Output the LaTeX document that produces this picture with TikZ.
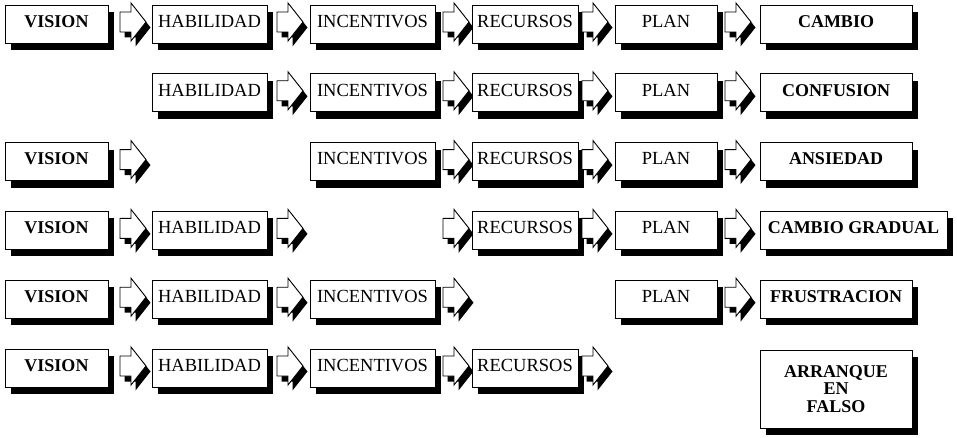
\documentclass[tikz,border=0pt]{standalone}
\usepackage{fontspec}
\setmainfont{Liberation Serif}
\usetikzlibrary{shadows}

\tikzset{
  % framed label with a solid black drop shadow
  blk/.style={draw, fill=white, line width=0.9pt, inner sep=0pt,
    minimum height=38pt, text height=12.5pt, text depth=6pt,
    font=\fontsize{18.5}{19}\selectfont,
    drop shadow={shadow xshift=6pt, shadow yshift=-7pt, opacity=1, fill=black}},
  bblk/.style={blk, font=\fontsize{18}{19}\selectfont\bfseries},
  vis/.style={bblk, minimum width=103pt},
  hab/.style={blk, minimum width=115pt},
  inc/.style={blk, minimum width=125pt},
  rec/.style={blk, minimum width=106pt},
  pln/.style={blk, minimum width=102pt},
  res/.style={bblk, minimum width=152pt},
  % hollow block arrow with a black shadow
  blockarrow/.pic={
    \fill[black, shift={(4.5,5.5)}] (0,-10) -- (11,-10) -- (11,-19) -- (26,0)
      -- (11,19) -- (11,10) -- (0,10) -- cycle;
    \draw[fill=white, line width=0.9pt, line join=miter] (0,-10) -- (11,-10)
      -- (11,-19) -- (26,0) -- (11,19) -- (11,10) -- (0,10) -- cycle;
  }
}

\begin{document}
\begin{tikzpicture}[x=1pt, y=-1pt]
  \useasboundingbox (0,0) rectangle (957,438);

  % row 1
  \node[vis] (v1) at (56.5,24) {VISION};
  \pic (a11) at (120,22) {blockarrow};
  \node[hab] (h1) at (209.5,24) {HABILIDAD};
  \pic (a12) at (277,22) {blockarrow};
  \node[inc] (i1) at (372.5,24) {INCENTIVOS};
  \pic (a13) at (443,22) {blockarrow};
  \node[rec] (r1) at (525,24) {RECURSOS};
  \pic (a14) at (582,22) {blockarrow};
  \node[pln] (p1) at (666,24) {PLAN};
  \pic (a15) at (725,22) {blockarrow};
  \node[res] (o1) at (836,24) {CAMBIO};

  % row 2
  \node[hab] (h2) at (209.5,92.8) {HABILIDAD};
  \pic (a22) at (277,90.8) {blockarrow};
  \node[inc] (i2) at (372.5,92.8) {INCENTIVOS};
  \pic (a23) at (443,90.8) {blockarrow};
  \node[rec] (r2) at (525,92.8) {RECURSOS};
  \pic (a24) at (582,90.8) {blockarrow};
  \node[pln] (p2) at (666,92.8) {PLAN};
  \pic (a25) at (725,90.8) {blockarrow};
  \node[res] (o2) at (836,92.8) {CONFUSION};

  % row 3
  \node[vis] (v3) at (56.5,161.6) {VISION};
  \pic (a31) at (120,159.6) {blockarrow};
  \node[inc] (i3) at (372.5,161.6) {INCENTIVOS};
  \pic (a33) at (443,159.6) {blockarrow};
  \node[rec] (r3) at (525,161.6) {RECURSOS};
  \pic (a34) at (582,159.6) {blockarrow};
  \node[pln] (p3) at (666,161.6) {PLAN};
  \pic (a35) at (725,159.6) {blockarrow};
  \node[res] (o3) at (836,161.6) {ANSIEDAD};

  % row 4
  \node[vis] (v4) at (56.5,230.4) {VISION};
  \pic (a41) at (120,228.4) {blockarrow};
  \node[hab] (h4) at (209.5,230.4) {HABILIDAD};
  \pic (a42) at (277,228.4) {blockarrow};
  \pic (a43) at (443,228.4) {blockarrow};
  \node[rec] (r4) at (525,230.4) {RECURSOS};
  \pic (a44) at (582,228.4) {blockarrow};
  \node[pln] (p4) at (666,230.4) {PLAN};
  \pic (a45) at (725,228.4) {blockarrow};
  \node[res, minimum width=187pt] (o4) at (853.5,230.4) {CAMBIO GRADUAL};

  % row 5
  \node[vis] (v5) at (56.5,299.2) {VISION};
  \pic (a51) at (120,297.2) {blockarrow};
  \node[hab] (h5) at (209.5,299.2) {HABILIDAD};
  \pic (a52) at (277,297.2) {blockarrow};
  \node[inc] (i5) at (372.5,299.2) {INCENTIVOS};
  \pic (a53) at (443,297.2) {blockarrow};
  \node[pln] (p5) at (666,299.2) {PLAN};
  \pic (a55) at (725,297.2) {blockarrow};
  \node[res] (o5) at (836,299.2) {FRUSTRACION};

  % row 6
  \node[vis] (v6) at (56.5,368) {VISION};
  \pic (a61) at (120,366) {blockarrow};
  \node[hab] (h6) at (209.5,368) {HABILIDAD};
  \pic (a62) at (277,366) {blockarrow};
  \node[inc] (i6) at (372.5,368) {INCENTIVOS};
  \pic (a63) at (443,366) {blockarrow};
  \node[rec] (r6) at (525,368) {RECURSOS};
  \pic (a64) at (582,366) {blockarrow};
  \node[res, minimum height=78pt, text height=, text depth=, align=center,
        font=\fontsize{18}{17.5}\selectfont\bfseries] (o6) at (836,389)
        {ARRANQUE\\EN\\FALSO};
\end{tikzpicture}
\end{document}
